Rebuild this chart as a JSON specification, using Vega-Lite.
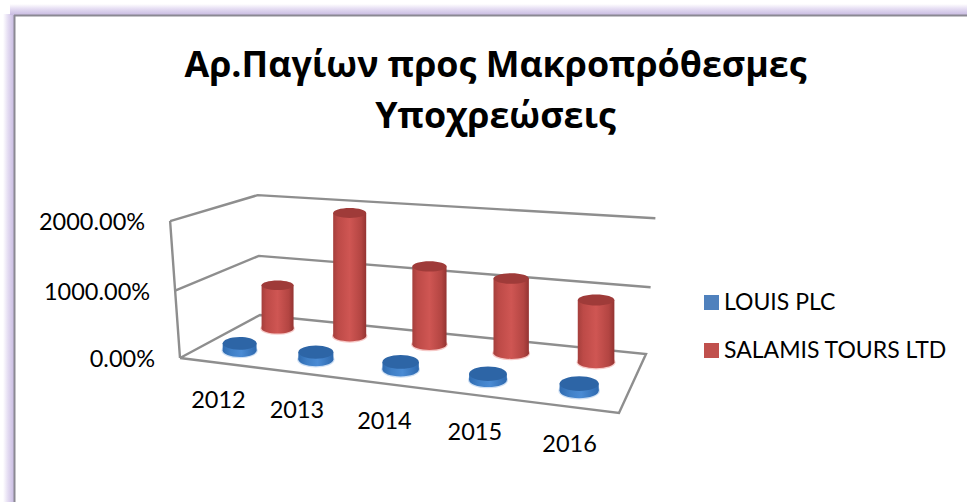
{
  "$schema": "https://vega.github.io/schema/vega-lite/v6.json",
  "width": 967,
  "height": 502,
  "autosize": "none",
  "padding": 0,
  "background": "#ffffff",
  "view": {"stroke": null},
  "config": {"axis": {"disable": true}},
  "title": {
    "text": ["Αρ.Παγίων προς Μακροπρόθεσμες", "Υποχρεώσεις"],
    "frame": "group",
    "anchor": "middle",
    "offset": 0,
    "dx": 12,
    "dy": 136,
    "font": "Open Sans",
    "fontSize": 35.8,
    "fontWeight": "bold",
    "lineHeight": 51,
    "color": "#000000"
  },
  "datasets": {
    "ratios": [
      {"year": 2012, "company": "LOUIS PLC", "ratio": 1.1},
      {"year": 2013, "company": "LOUIS PLC", "ratio": 1.1},
      {"year": 2014, "company": "LOUIS PLC", "ratio": 1.1},
      {"year": 2015, "company": "LOUIS PLC", "ratio": 0.85},
      {"year": 2016, "company": "LOUIS PLC", "ratio": 0.95},
      {"year": 2012, "company": "SALAMIS TOURS LTD", "ratio": 7.0},
      {"year": 2013, "company": "SALAMIS TOURS LTD", "ratio": 19.0},
      {"year": 2014, "company": "SALAMIS TOURS LTD", "ratio": 11.8},
      {"year": 2015, "company": "SALAMIS TOURS LTD", "ratio": 10.95},
      {"year": 2016, "company": "SALAMIS TOURS LTD", "ratio": 8.85}
    ],
    "box": [
      {"edge": "floor", "seq": 0, "corner": "FL", "level": 0},
      {"edge": "floor", "seq": 1, "corner": "FR", "level": 0},
      {"edge": "floor", "seq": 2, "corner": "BR", "level": 0},
      {"edge": "floor", "seq": 3, "corner": "BL", "level": 0},
      {"edge": "floor", "seq": 4, "corner": "FL", "level": 0},
      {"edge": "grid10", "seq": 0, "corner": "FL", "level": 10},
      {"edge": "grid10", "seq": 1, "corner": "BL", "level": 10},
      {"edge": "grid10", "seq": 2, "corner": "BR", "level": 10},
      {"edge": "grid20", "seq": 0, "corner": "FL", "level": 20},
      {"edge": "grid20", "seq": 1, "corner": "BL", "level": 20},
      {"edge": "grid20", "seq": 2, "corner": "BR", "level": 20},
      {"edge": "post", "seq": 0, "corner": "FL", "level": 0},
      {"edge": "post", "seq": 1, "corner": "FL", "level": 10},
      {"edge": "post", "seq": 2, "corner": "FL", "level": 20}
    ]
  },
  "layer": [
    {
      "data": {"values": [{"band": "left"}]},
      "mark": {"type": "rect", "fill": {"gradient": "linear", "x1": 0, "y1": 0, "x2": 1, "y2": 0, "stops": [{"offset": 0, "color": "#ffffff"}, {"offset": 0.45, "color": "#e4dcf2"}, {"offset": 1, "color": "#c8bbe1"}]}},
      "encoding": {
        "x": {"datum": 3, "type": "quantitative", "scale": {"domain": [0, 967], "nice": false, "zero": false}},
        "x2": {"datum": 14},
        "y": {"datum": 14, "type": "quantitative", "scale": {"domain": [502, 0], "nice": false, "zero": false}},
        "y2": {"datum": 502}
      }
    },
    {
      "data": {"values": [{"band": "top"}]},
      "mark": {"type": "rect", "fill": {"gradient": "linear", "x1": 0, "y1": 0, "x2": 0, "y2": 1, "stops": [{"offset": 0, "color": "#ffffff"}, {"offset": 0.45, "color": "#e4dcf2"}, {"offset": 1, "color": "#c8bbe1"}]}},
      "encoding": {
        "x": {"datum": 10, "type": "quantitative", "scale": {"domain": [0, 967], "nice": false, "zero": false}},
        "x2": {"datum": 967},
        "y": {"datum": 4, "type": "quantitative", "scale": {"domain": [502, 0], "nice": false, "zero": false}},
        "y2": {"datum": 15}
      }
    },
    {
      "data": {"values": [{"band": "edge"}]},
      "mark": {"type": "rule", "color": "#8b8993", "strokeWidth": 2},
      "encoding": {
        "x": {"datum": 14.5, "type": "quantitative", "scale": {"domain": [0, 967], "nice": false, "zero": false}},
        "y": {"datum": 15, "type": "quantitative", "scale": {"domain": [502, 0], "nice": false, "zero": false}},
        "y2": {"datum": 502}
      }
    },
    {
      "data": {"values": [{"band": "edge"}]},
      "mark": {"type": "rule", "color": "#8b8993", "strokeWidth": 2},
      "encoding": {
        "x": {"datum": 14, "type": "quantitative", "scale": {"domain": [0, 967], "nice": false, "zero": false}},
        "x2": {"datum": 967},
        "y": {"datum": 15.5, "type": "quantitative", "scale": {"domain": [502, 0], "nice": false, "zero": false}}
      }
    },
    {
      "data": {"name": "box"},
      "transform": [
        {"calculate": "datum.corner == 'FR' || datum.corner == 'BR' ? 1 : 0", "as": "u"},
        {"calculate": "datum.corner == 'BL' || datum.corner == 'BR' ? 1 : 0", "as": "v"},
        {"calculate": "datum.level / 20", "as": "t"},
        {"calculate": "1 - 0.17245 * datum.u + 0.14937 * datum.v - 0.03 * datum.t", "as": "w"},
        {"calculate": "(332.25 * datum.u + 118.84 * datum.v + 180 - 15 * datum.t + 4.5 * datum.t * datum.v) / datum.w", "as": "px"},
        {"calculate": "(-16.22 * datum.u + 4.05 * datum.v + 358 - 143.6 * datum.t + 4.5 * datum.t * datum.u) / datum.w", "as": "py"}
      ],
      "layer": [
        {
          "mark": {"type": "line", "color": "#8e8e8e", "strokeWidth": 2.4, "interpolate": "linear"},
          "encoding": {
            "x": {"field": "px", "type": "quantitative", "scale": {"domain": [0, 967], "nice": false, "zero": false}},
            "y": {"field": "py", "type": "quantitative", "scale": {"domain": [502, 0], "nice": false, "zero": false}},
            "detail": {"field": "edge"},
            "order": {"field": "seq"}
          }
        },
        {
          "transform": [{"filter": "datum.edge == 'post'"}],
          "mark": {"type": "text", "align": "right", "baseline": "middle", "dx": -25, "dy": 2, "font": "Lato", "fontSize": 23.5, "color": "#000000"},
          "encoding": {
            "x": {"field": "px", "type": "quantitative", "scale": {"domain": [0, 967], "nice": false, "zero": false}},
            "y": {"field": "py", "type": "quantitative", "scale": {"domain": [502, 0], "nice": false, "zero": false}},
            "text": {"field": "level", "type": "quantitative", "format": ".2%"}
          }
        }
      ]
    },
    {
      "data": {"name": "ratios"},
      "transform": [
        {"calculate": "[0.104, 0.305, 0.513, 0.712, 0.905][datum.year - 2012]", "as": "u"},
        {"calculate": "datum.company == 'LOUIS PLC' ? 0.25 : 0.75", "as": "v"},
        {"calculate": "datum.ratio / 20", "as": "t"},
        {"calculate": "1 - 0.17245 * datum.u + 0.14937 * datum.v", "as": "w"},
        {"calculate": "(332.25 * datum.u + 118.84 * datum.v + 180) / datum.w", "as": "px"},
        {"calculate": "(-16.22 * datum.u + 4.05 * datum.v + 358) / datum.w", "as": "py"},
        {"calculate": "(-16.22 * datum.u + 4.05 * datum.v + 358 - 143.6 * datum.t) / (datum.w - 0.03 * datum.t)", "as": "pyTop"},
        {"calculate": "(datum.company == 'LOUIS PLC' ? 34.5 : 35) / datum.w", "as": "girth"},
        {"calculate": "datum.px - datum.girth / 2", "as": "xLeft"},
        {"calculate": "datum.px + datum.girth / 2", "as": "xRight"},
        {"calculate": "datum.girth * datum.girth", "as": "footprint"}
      ],
      "layer": [
        {
          "mark": {"type": "point", "filled": true, "opacity": 1, "strokeWidth": 2.5, "strokeOpacity": 1},
          "encoding": {
            "x": {"field": "px", "type": "quantitative", "scale": {"domain": [0, 967], "nice": false, "zero": false}},
            "y": {"field": "py", "type": "quantitative", "scale": {"domain": [502, 0], "nice": false, "zero": false}},
            "size": {"field": "footprint", "type": "quantitative", "scale": null},
            "shape": {"condition": {"test": "datum.company == 'LOUIS PLC'", "value": "M-1,0A1,0.38,0,1,1,1,0A1,0.38,0,1,1,-1,0Z"}, "value": "M-1,0A1,0.32,0,1,1,1,0A1,0.32,0,1,1,-1,0Z"},
            "stroke": {"condition": {"test": "datum.company == 'LOUIS PLC'", "value": "#cfe0f4"}, "value": "#f6c9c7"},
            "color": {
              "field": "company",
              "type": "nominal",
              "scale": {"domain": ["LOUIS PLC", "SALAMIS TOURS LTD"], "range": ["#4f81bd", "#c0504d"]},
              "legend": {
                "orient": "none",
                "legendX": 700,
                "legendY": 291,
                "title": null,
                "symbolType": "square",
                "symbolSize": 225,
                "symbolOpacity": 1,
                "symbolStrokeWidth": 0,
                "labelFont": "Lato",
                "labelFontSize": 23,
                "labelColor": "#000000",
                "labelOffset": 1,
                "labelLimit": 300,
                "rowPadding": 24
              }
            }
          }
        },
        {
          "mark": {"type": "point", "filled": true, "opacity": 1, "stroke": null},
          "encoding": {
            "x": {"field": "px", "type": "quantitative", "scale": {"domain": [0, 967], "nice": false, "zero": false}},
            "y": {"field": "py", "type": "quantitative", "scale": {"domain": [502, 0], "nice": false, "zero": false}},
            "size": {"field": "footprint", "type": "quantitative", "scale": null},
            "shape": {"condition": {"test": "datum.company == 'LOUIS PLC'", "value": "M-1,0A1,0.38,0,1,1,1,0A1,0.38,0,1,1,-1,0Z"}, "value": "M-1,0A1,0.32,0,1,1,1,0A1,0.32,0,1,1,-1,0Z"},
            "fill": {
              "condition": {"test": "datum.company == 'LOUIS PLC'", "value": {"gradient": "linear", "x1": 0, "y1": 0, "x2": 1, "y2": 0, "stops": [{"offset": 0, "color": "#2f6bb0"}, {"offset": 0.25, "color": "#3f7fc6"}, {"offset": 0.55, "color": "#4a8bd4"}, {"offset": 1, "color": "#2e69ae"}]}},
              "value": {"gradient": "linear", "x1": 0, "y1": 0, "x2": 1, "y2": 0, "stops": [{"offset": 0, "color": "#a53f3c"}, {"offset": 0.15, "color": "#bd4a47"}, {"offset": 0.5, "color": "#cf5653"}, {"offset": 0.85, "color": "#b34542"}, {"offset": 1, "color": "#943432"}]}
            }
          }
        },
        {
          "mark": {"type": "rect", "stroke": null},
          "encoding": {
            "x": {"field": "xLeft", "type": "quantitative", "scale": {"domain": [0, 967], "nice": false, "zero": false}},
            "x2": {"field": "xRight"},
            "y": {"field": "pyTop", "type": "quantitative", "scale": {"domain": [502, 0], "nice": false, "zero": false}},
            "y2": {"field": "py"},
            "fill": {
              "condition": {"test": "datum.company == 'LOUIS PLC'", "value": {"gradient": "linear", "x1": 0, "y1": 0, "x2": 1, "y2": 0, "stops": [{"offset": 0, "color": "#2f6bb0"}, {"offset": 0.25, "color": "#3f7fc6"}, {"offset": 0.55, "color": "#4a8bd4"}, {"offset": 1, "color": "#2e69ae"}]}},
              "value": {"gradient": "linear", "x1": 0, "y1": 0, "x2": 1, "y2": 0, "stops": [{"offset": 0, "color": "#a53f3c"}, {"offset": 0.15, "color": "#bd4a47"}, {"offset": 0.5, "color": "#cf5653"}, {"offset": 0.85, "color": "#b34542"}, {"offset": 1, "color": "#943432"}]}
            }
          }
        },
        {
          "mark": {"type": "point", "filled": true, "opacity": 1, "stroke": null},
          "encoding": {
            "x": {"field": "px", "type": "quantitative", "scale": {"domain": [0, 967], "nice": false, "zero": false}},
            "y": {"field": "pyTop", "type": "quantitative", "scale": {"domain": [502, 0], "nice": false, "zero": false}},
            "size": {"field": "footprint", "type": "quantitative", "scale": null},
            "shape": {"condition": {"test": "datum.company == 'LOUIS PLC'", "value": "M-1,0A1,0.38,0,1,1,1,0A1,0.38,0,1,1,-1,0Z"}, "value": "M-1,0A1,0.3,0,1,1,1,0A1,0.3,0,1,1,-1,0Z"},
            "fill": {"condition": {"test": "datum.company == 'LOUIS PLC'", "value": "#2d65a6"}, "value": "#9f3b39"}
          }
        },
        {
          "transform": [
            {"filter": "datum.company == 'LOUIS PLC'"},
            {"calculate": "(332.25 * datum.u + 180) / (1 - 0.17245 * datum.u)", "as": "pxFront"},
            {"calculate": "(-16.22 * datum.u + 358) / (1 - 0.17245 * datum.u)", "as": "pyFront"}
          ],
          "mark": {"type": "text", "align": "center", "baseline": "middle", "dy": 38, "font": "Lato", "fontSize": 23.5, "color": "#000000"},
          "encoding": {
            "x": {"field": "pxFront", "type": "quantitative", "scale": {"domain": [0, 967], "nice": false, "zero": false}},
            "y": {"field": "pyFront", "type": "quantitative", "scale": {"domain": [502, 0], "nice": false, "zero": false}},
            "text": {"field": "year", "type": "nominal"}
          }
        }
      ]
    }
  ]
}
